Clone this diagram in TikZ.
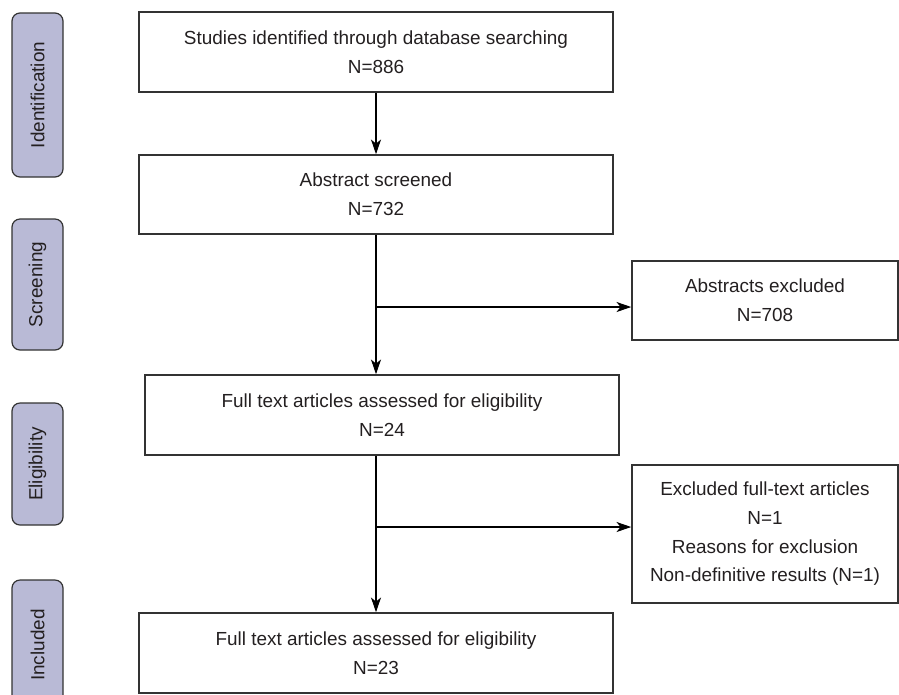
\documentclass[tikz,border=0pt]{standalone}
\usepackage{fontspec}
\setmainfont{Liberation Sans}
\usepackage{tikz}
\usetikzlibrary{arrows.meta}
\definecolor{lavanda}{HTML}{B9BAD6}
\definecolor{tinta}{HTML}{231F20}
\definecolor{borde}{HTML}{333333}

\begin{document}
\begin{tikzpicture}[
  x=0.75pt, y=-0.75pt,
  box/.style={
    draw=borde, line width=1.2pt, rectangle, align=center,
    minimum width=355.5pt, minimum height=60pt, inner sep=2pt,
    text=tinta, font=\fontsize{14.2}{21.5}\selectfont
  },
  sidebox/.style={
    box, draw=borde, fill=lavanda, rounded corners=6pt, rotate=90,
    minimum height=38.25pt, line width=0.9pt
  },
  arr/.style={-{Stealth[length=11pt, width=7.5pt, inset=3pt]}, line width=0.8pt, color=black}
]
  \useasboundingbox (0,0) rectangle (899,694);
  % fase (columna izquierda)
  \node[sidebox, minimum width=123pt]   (fid)  at (37.5,95)    {Identification};
  \node[sidebox, minimum width=98.25pt] (fscr) at (37.5,284.5) {Screening};
  \node[sidebox, minimum width=91.5pt]  (feli) at (37.5,464)   {Eligibility};
  \node[sidebox, minimum width=97.5pt]  (finc) at (37.5,645)   {Included};
  % cajas principales
  \node[box] (idbox)  at (376,52)    {Studies identified through database searching\\ N=886};
  \node[box, minimum height=59.25pt] (absbox) at (376,194.5) {Abstract screened\\ N=732};
  \node[box] (fullbox) at (382,415)  {Full text articles assessed for eligibility\\ N=24};
  \node[box] (inclbox) at (376,653)  {Full text articles assessed for eligibility\\ N=23};
  % exclusiones
  \node[box, minimum width=199.5pt, minimum height=59.25pt] (exabs) at (765,300.5) {Abstracts excluded\\ N=708};
  \node[box, minimum width=199.5pt, minimum height=103.5pt] (exfull) at (765,534)
    {Excluded full-text articles\\ N=1\\ Reasons for exclusion\\ Non-definitive results (N=1)};
  \coordinate (b1) at (376,307);
  \coordinate (b2) at (376,527);
  \draw[arr] (idbox) -- (absbox);
  \draw[arr] (absbox.south) -- (absbox.south |- fullbox.north);
  \draw[arr] (b1) -- (b1 -| exabs.west);
  \draw[arr] (absbox.south |- fullbox.south) -- (absbox.south |- inclbox.north);
  \draw[arr] (b2) -- (b2 -| exfull.west);
\end{tikzpicture}
\end{document}
